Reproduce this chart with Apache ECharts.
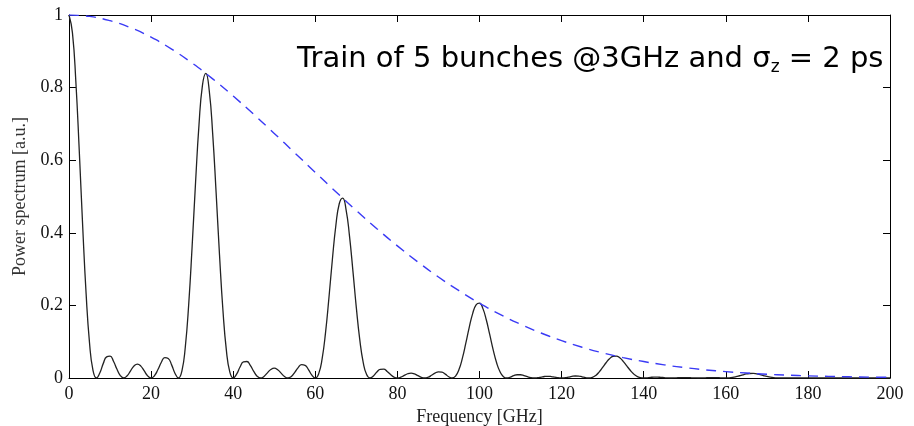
<!DOCTYPE html>
<html>
<head>
<meta charset="utf-8">
<script src="https://cdn.jsdelivr.net/npm/echarts@6/dist/echarts.min.js"></script>
<style>
	html, body { margin: 0; padding: 0; background: #fff; }
	#spectrum { width: 914px; height: 426px; }
</style>
</head>
<body>
<div id="spectrum"></div>
<script>
//////////// 데이터 ////////////
// 주파수 샘플 간격 (GHz) - 0 ~ 200 GHz
var stepGHz = 200 / 240;

// 검은 실선 : 5 bunch train power spectrum
var trainPower = [
	1.000, 0.9515, 0.8167, 0.6262, 0.4183, 0.2326, 0.0966, 0.0214,
	0, 0.0138, 0.0396, 0.0582, 0.0601, 0.0461, 0.0247, 0.0067,
	0, 0.0060, 0.0198, 0.0330, 0.0383, 0.0327, 0.0194, 0.0059,
	0, 0.0064, 0.0234, 0.0434, 0.0561, 0.0538, 0.0362, 0.0125,
	0, 0.0191, 0.0855, 0.2039, 0.3635, 0.5394, 0.6974, 0.8054,
	0.8391, 0.7914, 0.6733, 0.5118, 0.3388, 0.1868, 0.0769, 0.0169,
	0, 0.0107, 0.0304, 0.0444, 0.0454, 0.0345, 0.0183, 0.0050,
	0, 0.0043, 0.0142, 0.0234, 0.0270, 0.0228, 0.0134, 0.0040,
	0, 0.0043, 0.0156, 0.0287, 0.0368, 0.0350, 0.0234, 0.0080,
	0, 0.0120, 0.0532, 0.1258, 0.2224, 0.3272, 0.4193, 0.4800,
	0.4957, 0.4634, 0.3909, 0.2945, 0.1933, 0.1056, 0.0431, 0.0094,
	0, 0.0058, 0.0165, 0.0238, 0.0242, 0.0182, 0.0096, 0.0026,
	0, 0.0022, 0.0072, 0.0117, 0.0134, 0.0112, 0.0065, 0.0019,
	0, 0.0021, 0.0074, 0.0134, 0.0170, 0.0160, 0.0106, 0.0036,
	0, 0.0053, 0.0233, 0.0547, 0.0958, 0.1397, 0.1775, 0.2014,
	0.2062, 0.1911, 0.1597, 0.1193, 0.0776, 0.0420, 0.0170, 0.0037,
	0, 0.0022, 0.0063, 0.0090, 0.0090, 0.0068, 0.0035, 0.0009,
	0, 0.0008, 0.0025, 0.0041, 0.0047, 0.0039, 0.0022, 0.0007,
	0, 0.0007, 0.0024, 0.0044, 0.0055, 0.0052, 0.0034, 0.0011,
	0, 0.0017, 0.0072, 0.0167, 0.0291, 0.0420, 0.0529, 0.0595,
	0.0604, 0.0555, 0.0459, 0.0340, 0.0220, 0.0118, 0.0047, 0.0010,
	0, 0.0006, 0.0017, 0.0024, 0.0024, 0.0018, 0.0009, 0.0002,
	0, 0.0002, 0.0007, 0.0010, 0.0011, 0.0010, 0.0006, 0.0002,
	0, 0.0002, 0.0006, 0.0010, 0.0013, 0.0012, 0.0008, 0.0003,
	0, 0.0004, 0.0016, 0.0036, 0.0062, 0.0089, 0.0111, 0.0124,
	0.0125, 0.0113, 0.0093, 0.0068, 0.0044, 0.0023, 0.0009, 0.0002,
	0, 0, 0, 0, 0, 0, 0, 0,
	0, 0, 0, 0, 0, 0, 0, 0,
	0, 0, 0, 0, 0, 0, 0, 0,
	0, 0, 0, 0, 0, 0, 0, 0,
	0
];

// 파란 점선 : 단일 bunch (sigma_z = 2 ps) envelope
var envFreq = [0, 5, 10, 15, 20, 25, 30, 35, 40, 45, 50, 55, 60, 65, 70, 75, 80, 85, 90, 95, 100,
	105, 110, 115, 120, 125, 130, 135, 140, 145, 150, 155, 160, 165, 170, 175, 180, 185, 190, 195, 200];
var envPower = [1, 0.9961, 0.9843, 0.9651, 0.9388, 0.9060, 0.8675, 0.8241, 0.7767, 0.7263, 0.6738,
	0.6202, 0.5664, 0.5132, 0.4613, 0.4114, 0.3640, 0.3195, 0.2783, 0.2405, 0.2062,
	0.1754, 0.1480, 0.1239, 0.1029, 0.0848, 0.0694, 0.0562, 0.0453, 0.0362, 0.0286,
	0.0225, 0.0176, 0.0136, 0.0104, 0.0079, 0.0060, 0.0045, 0.0033, 0.0025, 0.0018];

// 축 눈금
var xTicks = [0, 20, 40, 60, 80, 100, 120, 140, 160, 180, 200];
var yTicks = [0, 0.2, 0.4, 0.6, 0.8, 1];

//////////// 차트 구성 ////////////
showSpectrumChart();

function showSpectrumChart() {
	var chart = echarts.init(document.getElementById('spectrum'));

	var trainData = [];
	for (var i = 0; i < trainPower.length; i++) {
		trainData.push([i * stepGHz, trainPower[i]]);
	}
	var envData = [];
	for (var j = 0; j < envFreq.length; j++) {
		envData.push([envFreq[j], envPower[j]]);
	}

	var serif = 'Liberation Serif';
	var axisLine = {show: true, onZero: false, lineStyle: {color: '#000', width: 1}};
	var tick = {show: true, inside: true, length: 7, lineStyle: {color: '#000', width: 1}};

	var option = {
		backgroundColor: '#fff',
		animation: false,
		grid: {left: 69, right: 24, top: 15, bottom: 48, outerBoundsMode: 'none', containLabel: false},
		xAxis: [
			{
				type: 'value',
				min: xTicks[0],
				max: xTicks[xTicks.length - 1],
				interval: 20,
				name: 'Frequency [GHz]',
				nameLocation: 'middle',
				nameGap: 19,
				nameTextStyle: {fontFamily: serif, fontSize: 18, color: '#222'},
				axisLine: axisLine,
				axisTick: tick,
				axisLabel: {fontFamily: serif, fontSize: 18, color: '#111', margin: 7},
				splitLine: {show: false}
			},
			{
				type: 'value', position: 'top',
				min: 0, max: 200, interval: 20,
				axisLine: axisLine, axisTick: tick,
				axisLabel: {show: false}, splitLine: {show: false}
			}
		],
		yAxis: [
			{
				type: 'value',
				min: yTicks[0],
				max: yTicks[yTicks.length - 1],
				interval: 0.2,
				name: 'Power spectrum [a.u.]',
				nameLocation: 'middle',
				nameGap: 32,
				nameTextStyle: {fontFamily: serif, fontSize: 18, color: '#333'},
				axisLine: axisLine,
				axisTick: tick,
				axisLabel: {fontFamily: serif, fontSize: 18, color: '#111', margin: 6},
				splitLine: {show: false}
			},
			{
				type: 'value', position: 'right',
				min: 0, max: 1, interval: 0.2,
				axisLine: axisLine, axisTick: tick,
				axisLabel: {show: false}, splitLine: {show: false}
			}
		],
		series: [
			{
				name: 'envelope',
				type: 'line',
				data: envData,
				smooth: true,
				symbol: 'none',
				lineStyle: {color: '#3a3af5', width: 1.4, type: [10, 7]},
				z: 3
			},
			{
				name: 'train',
				type: 'line',
				data: trainData,
				smooth: true,
				symbol: 'none',
				clip: true,
				lineStyle: {color: '#222', width: 1.3},
				z: 2
			}
		],
		graphic: [
			{
				type: 'text',
				left: 297,
				top: 45,
				style: {
					text: '{a|Train of 5 bunches @3GHz and σ}{s|z}{a| = 2 ps}',
					rich: {
						a: {fontFamily: 'DejaVu Sans', fontSize: 29, lineHeight: 34, fill: '#000'},
						s: {fontFamily: 'DejaVu Sans', fontSize: 17, lineHeight: 17, verticalAlign: 'bottom', fill: '#000'}
					}
				}
			}
		]
	};

	chart.setOption(option);
}
</script>
</body>
</html>
